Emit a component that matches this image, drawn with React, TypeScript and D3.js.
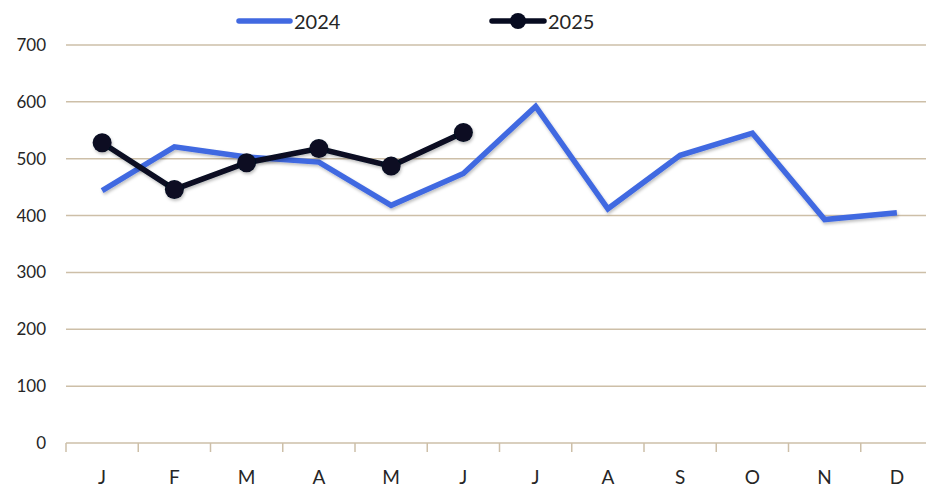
import React, { useRef, useEffect } from "react";
import * as d3 from "d3";

const months = ["J", "F", "M", "A", "M", "J", "J", "A", "S", "O", "N", "D"];
const values2024 = [444, 521, 503, 494, 418, 474, 592, 412, 506, 545, 393, 405];
const values2025 = [528, 446, 493, 518, 487, 546];
const yTicks = [0, 100, 200, 300, 400, 500, 600, 700];

const App = () => {
  const svgRef = useRef<SVGSVGElement>(null);

  useEffect(() => {
    const width = 926;
    const height = 487;
    const margin = { top: 45, right: -7, bottom: 44, left: 66 };
    const font = "Lato, 'Noto Sans', sans-serif";
    const gridColor = "#cdbfa8";

    const svg = d3.select(svgRef.current).attr("width", width).attr("height", height);
    svg.selectAll("*").remove();

    // soft shadow under the lines
    const defs = svg.append("defs");
    const filter = defs.append("filter").attr("id", "shadow").attr("x", "-10%").attr("y", "-10%").attr("width", "120%").attr("height", "130%");
    filter.append("feDropShadow").attr("dx", 1).attr("dy", 2).attr("stdDeviation", 1.5).attr("flood-color", "#000").attr("flood-opacity", 0.25);

    const x = d3.scaleBand<number>().domain(d3.range(12)).range([margin.left, width - margin.right]);
    const y = d3.scaleLinear().domain([0, 700]).range([height - margin.bottom, margin.top]);

    // gridlines
    svg.append("g")
      .selectAll("line")
      .data(yTicks.slice(1))
      .join("line")
      .attr("x1", margin.left)
      .attr("x2", width)
      .attr("y1", (d) => y(d))
      .attr("y2", (d) => y(d))
      .attr("stroke", gridColor)
      .attr("stroke-width", 1.5);

    // y labels
    svg.append("g")
      .selectAll("text")
      .data(yTicks)
      .join("text")
      .attr("x", 46)
      .attr("y", (d) => y(d))
      .attr("dy", "0.35em")
      .attr("text-anchor", "end")
      .attr("font-family", font)
      .attr("font-size", 17)
      .attr("fill", "#262626")
      .text((d) => d);

    // x axis line + ticks at band edges
    const xAxis = svg.append("g");
    xAxis.append("line")
      .attr("x1", margin.left)
      .attr("x2", width)
      .attr("y1", y(0))
      .attr("y2", y(0))
      .attr("stroke", gridColor)
      .attr("stroke-width", 1.5);
    xAxis.selectAll("line.tick")
      .data(d3.range(12))
      .join("line")
      .attr("class", "tick")
      .attr("x1", (d) => x(d)!)
      .attr("x2", (d) => x(d)!)
      .attr("y1", y(0))
      .attr("y2", y(0) + 9)
      .attr("stroke", gridColor)
      .attr("stroke-width", 1.5);
    xAxis.selectAll("text")
      .data(months)
      .join("text")
      .attr("x", (_, i) => x(i)! + x.bandwidth() / 2)
      .attr("y", 477)
      .attr("dy", "0.35em")
      .attr("text-anchor", "middle")
      .attr("font-family", font)
      .attr("font-size", 19)
      .attr("fill", "#262626")
      .text((d) => d);

    const line = d3.line<number>()
      .x((_, i) => x(i)! + x.bandwidth() / 2)
      .y((d) => y(d));

    svg.append("path")
      .datum(values2024)
      .attr("fill", "none")
      .attr("stroke", "#4169e1")
      .attr("stroke-width", 5.5)
      .attr("filter", "url(#shadow)")
      .attr("d", line);

    const g25 = svg.append("g").attr("filter", "url(#shadow)");
    g25.append("path")
      .datum(values2025)
      .attr("fill", "none")
      .attr("stroke", "#070b20")
      .attr("stroke-width", 5.5)
      .attr("d", line);
    g25.selectAll("circle")
      .data(values2025)
      .join("circle")
      .attr("cx", (_, i) => x(i)! + x.bandwidth() / 2)
      .attr("cy", (d) => y(d))
      .attr("r", 9.5)
      .attr("fill", "#070b20");

    // legend
    const legend = svg.append("g").attr("font-family", font).attr("font-size", 20).attr("fill", "#262626");
    legend.append("line")
      .attr("x1", 239).attr("x2", 290).attr("y1", 21).attr("y2", 21)
      .attr("stroke", "#4169e1").attr("stroke-width", 5.5).attr("stroke-linecap", "round");
    legend.append("text").attr("x", 294).attr("y", 22).attr("dy", "0.35em").text("2024");
    legend.append("line")
      .attr("x1", 492).attr("x2", 544).attr("y1", 21).attr("y2", 21)
      .attr("stroke", "#070b20").attr("stroke-width", 5.5).attr("stroke-linecap", "round");
    legend.append("circle").attr("cx", 518).attr("cy", 21).attr("r", 8).attr("fill", "#070b20");
    legend.append("text").attr("x", 548).attr("y", 22).attr("dy", "0.35em").text("2025");
  }, []);

  return (
    <div style={{ position: "absolute", left: 0, top: 0 }}>
      <svg ref={svgRef} style={{ display: "block" }} />
    </div>
  );
};

export default App;
